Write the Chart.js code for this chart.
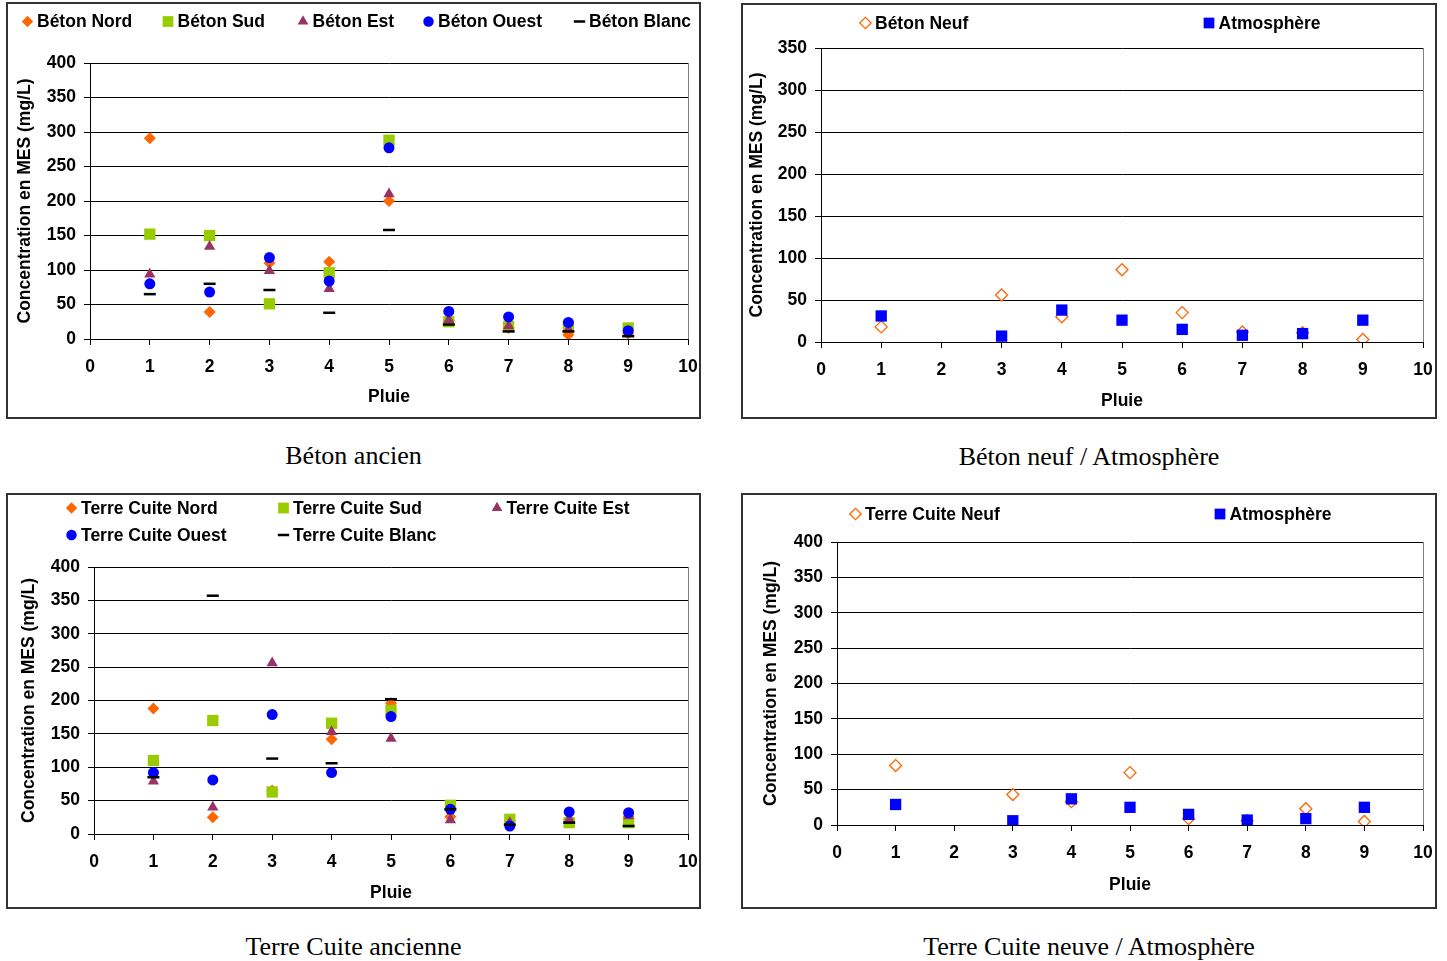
<!DOCTYPE html>
<html lang="fr">
<head>
<meta charset="utf-8">
<title>Concentration en MES</title>
<script src="https://cdn.jsdelivr.net/npm/chart.js@4.4.1/dist/chart.umd.min.js"></script>
<style>
  body { margin: 0; background: #fff; width: 1447px; height: 961px; position: relative; overflow: hidden; }
  .panel { position: absolute; }
  .panel canvas { position: absolute; left: 0; top: 0; }
  .frame { position: absolute; left: 0; top: 0; right: 0; bottom: 0; border: 2px solid #333; pointer-events: none; }
  .caption { position: absolute; text-align: center; font: 26px "Liberation Serif", "Times New Roman", serif; line-height: 30px; color: #000; }
</style>
</head>
<body>
<div class="panel" style="left:6px;top:2px;width:695px;height:417px"><canvas id="chartBetonAncien" width="695" height="417"></canvas><div class="frame"></div></div>
<div class="panel" style="left:741px;top:3px;width:696px;height:416px"><canvas id="chartBetonNeuf" width="696" height="416"></canvas><div class="frame"></div></div>
<div class="panel" style="left:6px;top:493px;width:695px;height:416px"><canvas id="chartTerreAncienne" width="695" height="416"></canvas><div class="frame"></div></div>
<div class="panel" style="left:741px;top:493px;width:696px;height:416px"><canvas id="chartTerreNeuve" width="696" height="416"></canvas><div class="frame"></div></div>

<div class="caption" style="left:6px;top:441px;width:695px">Béton ancien</div>
<div class="caption" style="left:741px;top:442px;width:696px">Béton neuf / Atmosphère</div>
<div class="caption" style="left:6px;top:932px;width:695px">Terre Cuite ancienne</div>
<div class="caption" style="left:741px;top:932px;width:696px">Terre Cuite neuve / Atmosphère</div>

<script>
// Data
const pluie = [1, 2, 3, 4, 5, 6, 7, 8, 9];
const xTicks = [0, 10];

// Béton ancien
const betonNord = [291, 39, 110, 112, 200, 27, 16, 6, 8];
const betonSud = [152, 150, 51, 96, 288, 25, 18, 18, 16];
const betonEst = [94, 134, 99, 73, 210, 28, 19, 14, 8];
const betonOuest = [80, 68, 118, 84, 277, 40, 32, 24, 12];
const betonBlanc = [65, 80, 71, 38, 158, 21, 11, 11, 4];

// Béton neuf / Atmosphère
const betonNeuf = [18, null, 56, 30, 86, 35, 12, 11, 3];
const atmosphereBeton = [31, null, 7, 38, 26, 15, 8, 10, 26];

// Terre Cuite ancienne
const terreNord = [188, 25, 65, 142, 196, 26, 20, 22, 26];
const terreSud = [110, 170, 63, 166, 185, 43, 22, 17, 17];
const terreEst = [79, 40, 256, 153, 143, 21, 17, 22, 27];
const terreOuest = [92, 81, 179, 92, 176, 37, 12, 33, 32];
const terreBlanc = [85, 357, 113, 106, 202, 37, 14, 17, 12];

// Terre Cuite neuve / Atmosphère
const terreNeuf = [84, null, 43, 33, 74, 9, 6, 23, 5];
const atmosphereTerre = [29, null, 6, 37, 25, 15, 7, 9, 25];

// Defaults
Chart.defaults.font.family = '"Liberation Sans", Arial, sans-serif';
Chart.defaults.font.size = 17.5;
Chart.defaults.font.weight = "bold";
Chart.defaults.color = "#000";
Chart.defaults.animation = false;
Chart.defaults.responsive = false;
Chart.defaults.events = [];
Chart.defaults.plugins.legend.display = false;
Chart.defaults.plugins.tooltip.enabled = false;

// Marker styles
const orange = "#FF6600";
const vert = "#99CC00";
const prune = "#993366";
const bleu = "#0000FF";

const styleNord = { pointStyle: "rectRot", pointRadius: 6, pointBackgroundColor: orange, pointBorderColor: orange, pointBorderWidth: 0 };
const styleSud = { pointStyle: "rect", pointRadius: 8, pointBackgroundColor: vert, pointBorderColor: vert, pointBorderWidth: 0 };
const styleEst = { pointStyle: "triangle", pointRadius: 6.5, pointBackgroundColor: prune, pointBorderColor: prune, pointBorderWidth: 0 };
const styleOuest = { pointStyle: "circle", pointRadius: 5.5, pointBackgroundColor: bleu, pointBorderColor: bleu, pointBorderWidth: 0 };
const styleBlanc = { pointStyle: "line", pointRadius: 6, pointBackgroundColor: "#000", pointBorderColor: "#000", pointBorderWidth: 2.5 };
const styleNeuf = { pointStyle: "rectRot", pointRadius: 6, pointBackgroundColor: "rgba(0,0,0,0)", pointBorderColor: orange, pointBorderWidth: 1.3 };
const styleAtmo = { pointStyle: "rect", pointRadius: 8, pointBackgroundColor: bleu, pointBorderColor: bleu, pointBorderWidth: 0 };

// later series drawn on top, as in the original workbook
function serie(label, values, style, i) {
  return {
    label,
    data: pluie.map((x, k) => ({ x, y: values[k] })).filter((p) => p.y !== null),
    showLine: false,
    order: -i,
    ...style,
  };
}

function drawMarker(ctx, ds, x, y, k) {
  const r = ds.pointRadius * k;
  ctx.fillStyle = ds.pointBackgroundColor;
  ctx.strokeStyle = ds.pointBorderColor;
  ctx.lineWidth = ds.pointBorderWidth;
  ctx.beginPath();
  switch (ds.pointStyle) {
    case "rectRot":
      ctx.moveTo(x - r, y);
      ctx.lineTo(x, y - r);
      ctx.lineTo(x + r, y);
      ctx.lineTo(x, y + r);
      ctx.closePath();
      break;
    case "rect": {
      const s = r * Math.SQRT1_2;
      ctx.rect(x - s, y - s, 2 * s, 2 * s);
      break;
    }
    case "triangle":
      ctx.moveTo(x, y - r);
      ctx.lineTo(x + r * 0.866, y + r / 2);
      ctx.lineTo(x - r * 0.866, y + r / 2);
      ctx.closePath();
      break;
    case "circle":
      ctx.arc(x, y, r, 0, Math.PI * 2);
      break;
    default:
      ctx.moveTo(x - r, y);
      ctx.lineTo(x + r, y);
  }
  if (ds.pointStyle !== "line") ctx.fill();
  if (ds.pointBorderWidth > 0) ctx.stroke();
}

// Legend laid out in fixed cells like the spreadsheet legend
const cellLegend = {
  id: "cellLegend",
  afterDraw(chart, args, opts) {
    const ctx = chart.ctx;
    ctx.save();
    chart.data.datasets.forEach((ds, i) => {
      const slot = opts.slots[i];
      drawMarker(ctx, ds, slot[0], slot[1], 0.95);
      ctx.font = 'bold 17.5px "Liberation Sans", Arial, sans-serif';
      ctx.fillStyle = "#000";
      ctx.textAlign = "left";
      ctx.textBaseline = "middle";
      ctx.fillText(ds.label, slot[0] + 9.5, slot[1] + 1);
    });
    ctx.restore();
  },
};

function axes(yMax, yWidth, xHeight) {
  return {
    x: {
      type: "linear",
      min: xTicks[0],
      max: xTicks[1],
      ticks: { stepSize: 1, padding: 12 },
      grid: {
        color: (c) => (c.tick && c.tick.value === xTicks[1] ? "#808080" : "rgba(0,0,0,0)"),
        tickColor: "#000",
        tickLength: 6,
      },
      border: { color: "#000" },
      title: { display: true, text: "Pluie", padding: 0 },
      afterFit(s) {
        s.height = xHeight;
        s.paddingLeft = 0;
        s.paddingRight = 0;
      },
    },
    y: {
      min: 0,
      max: yMax,
      ticks: { stepSize: 50, padding: 8 },
      grid: { color: "#000", tickColor: "#000", tickLength: 6 },
      border: { color: "#000" },
      title: { display: true, text: "Concentration en MES (mg/L)", padding: 0 },
      afterFit(s) {
        s.width = yWidth;
        s.paddingTop = 0;
        s.paddingBottom = 0;
      },
    },
  };
}

function makeChart(id, datasets, yMax, box, slots) {
  new Chart(document.getElementById(id), {
    type: "scatter",
    data: { datasets },
    options: {
      layout: { padding: box.padding },
      scales: axes(yMax, box.yWidth, box.xHeight),
      plugins: { cellLegend: { slots } },
    },
    plugins: [cellLegend],
  });
}

// Béton ancien
makeChart(
  "chartBetonAncien",
  [
    serie("Béton Nord", betonNord, styleNord, 0),
    serie("Béton Sud", betonSud, styleSud, 1),
    serie("Béton Est", betonEst, styleEst, 2),
    serie("Béton Ouest", betonOuest, styleOuest, 3),
    serie("Béton Blanc", betonBlanc, styleBlanc, 4),
  ],
  400,
  { padding: { top: 61, left: 9, right: 13, bottom: 11 }, yWidth: 75, xHeight: 69 },
  [[21.5, 19.5], [162, 19.5], [297, 19.5], [422.5, 19.5], [573.5, 19.5]]
);

// Béton neuf / Atmosphère
makeChart(
  "chartBetonNeuf",
  [
    serie("Béton Neuf", betonNeuf, styleNeuf, 0),
    serie("Atmosphère", atmosphereBeton, styleAtmo, 1),
  ],
  350,
  { padding: { top: 45, left: 6, right: 14, bottom: 7 }, yWidth: 74, xHeight: 70 },
  [[124.5, 20], [468, 20]]
);

// Terre Cuite ancienne
makeChart(
  "chartTerreAncienne",
  [
    serie("Terre Cuite Nord", terreNord, styleNord, 0),
    serie("Terre Cuite Sud", terreSud, styleSud, 1),
    serie("Terre Cuite Est", terreEst, styleEst, 2),
    serie("Terre Cuite Ouest", terreOuest, styleOuest, 3),
    serie("Terre Cuite Blanc", terreBlanc, styleBlanc, 4),
  ],
  400,
  { padding: { top: 74, left: 13, right: 13, bottom: 5 }, yWidth: 75, xHeight: 70 },
  [[65.5, 15], [277.5, 15], [491, 15], [65.5, 42], [277.5, 42]]
);

// Terre Cuite neuve / Atmosphère
makeChart(
  "chartTerreNeuve",
  [
    serie("Terre Cuite Neuf", terreNeuf, styleNeuf, 0),
    serie("Atmosphère", atmosphereTerre, styleAtmo, 1),
  ],
  400,
  { padding: { top: 49, left: 20, right: 14, bottom: 13 }, yWidth: 76, xHeight: 71 },
  [[114.5, 21], [479, 21]]
);
</script>
</body>
</html>
